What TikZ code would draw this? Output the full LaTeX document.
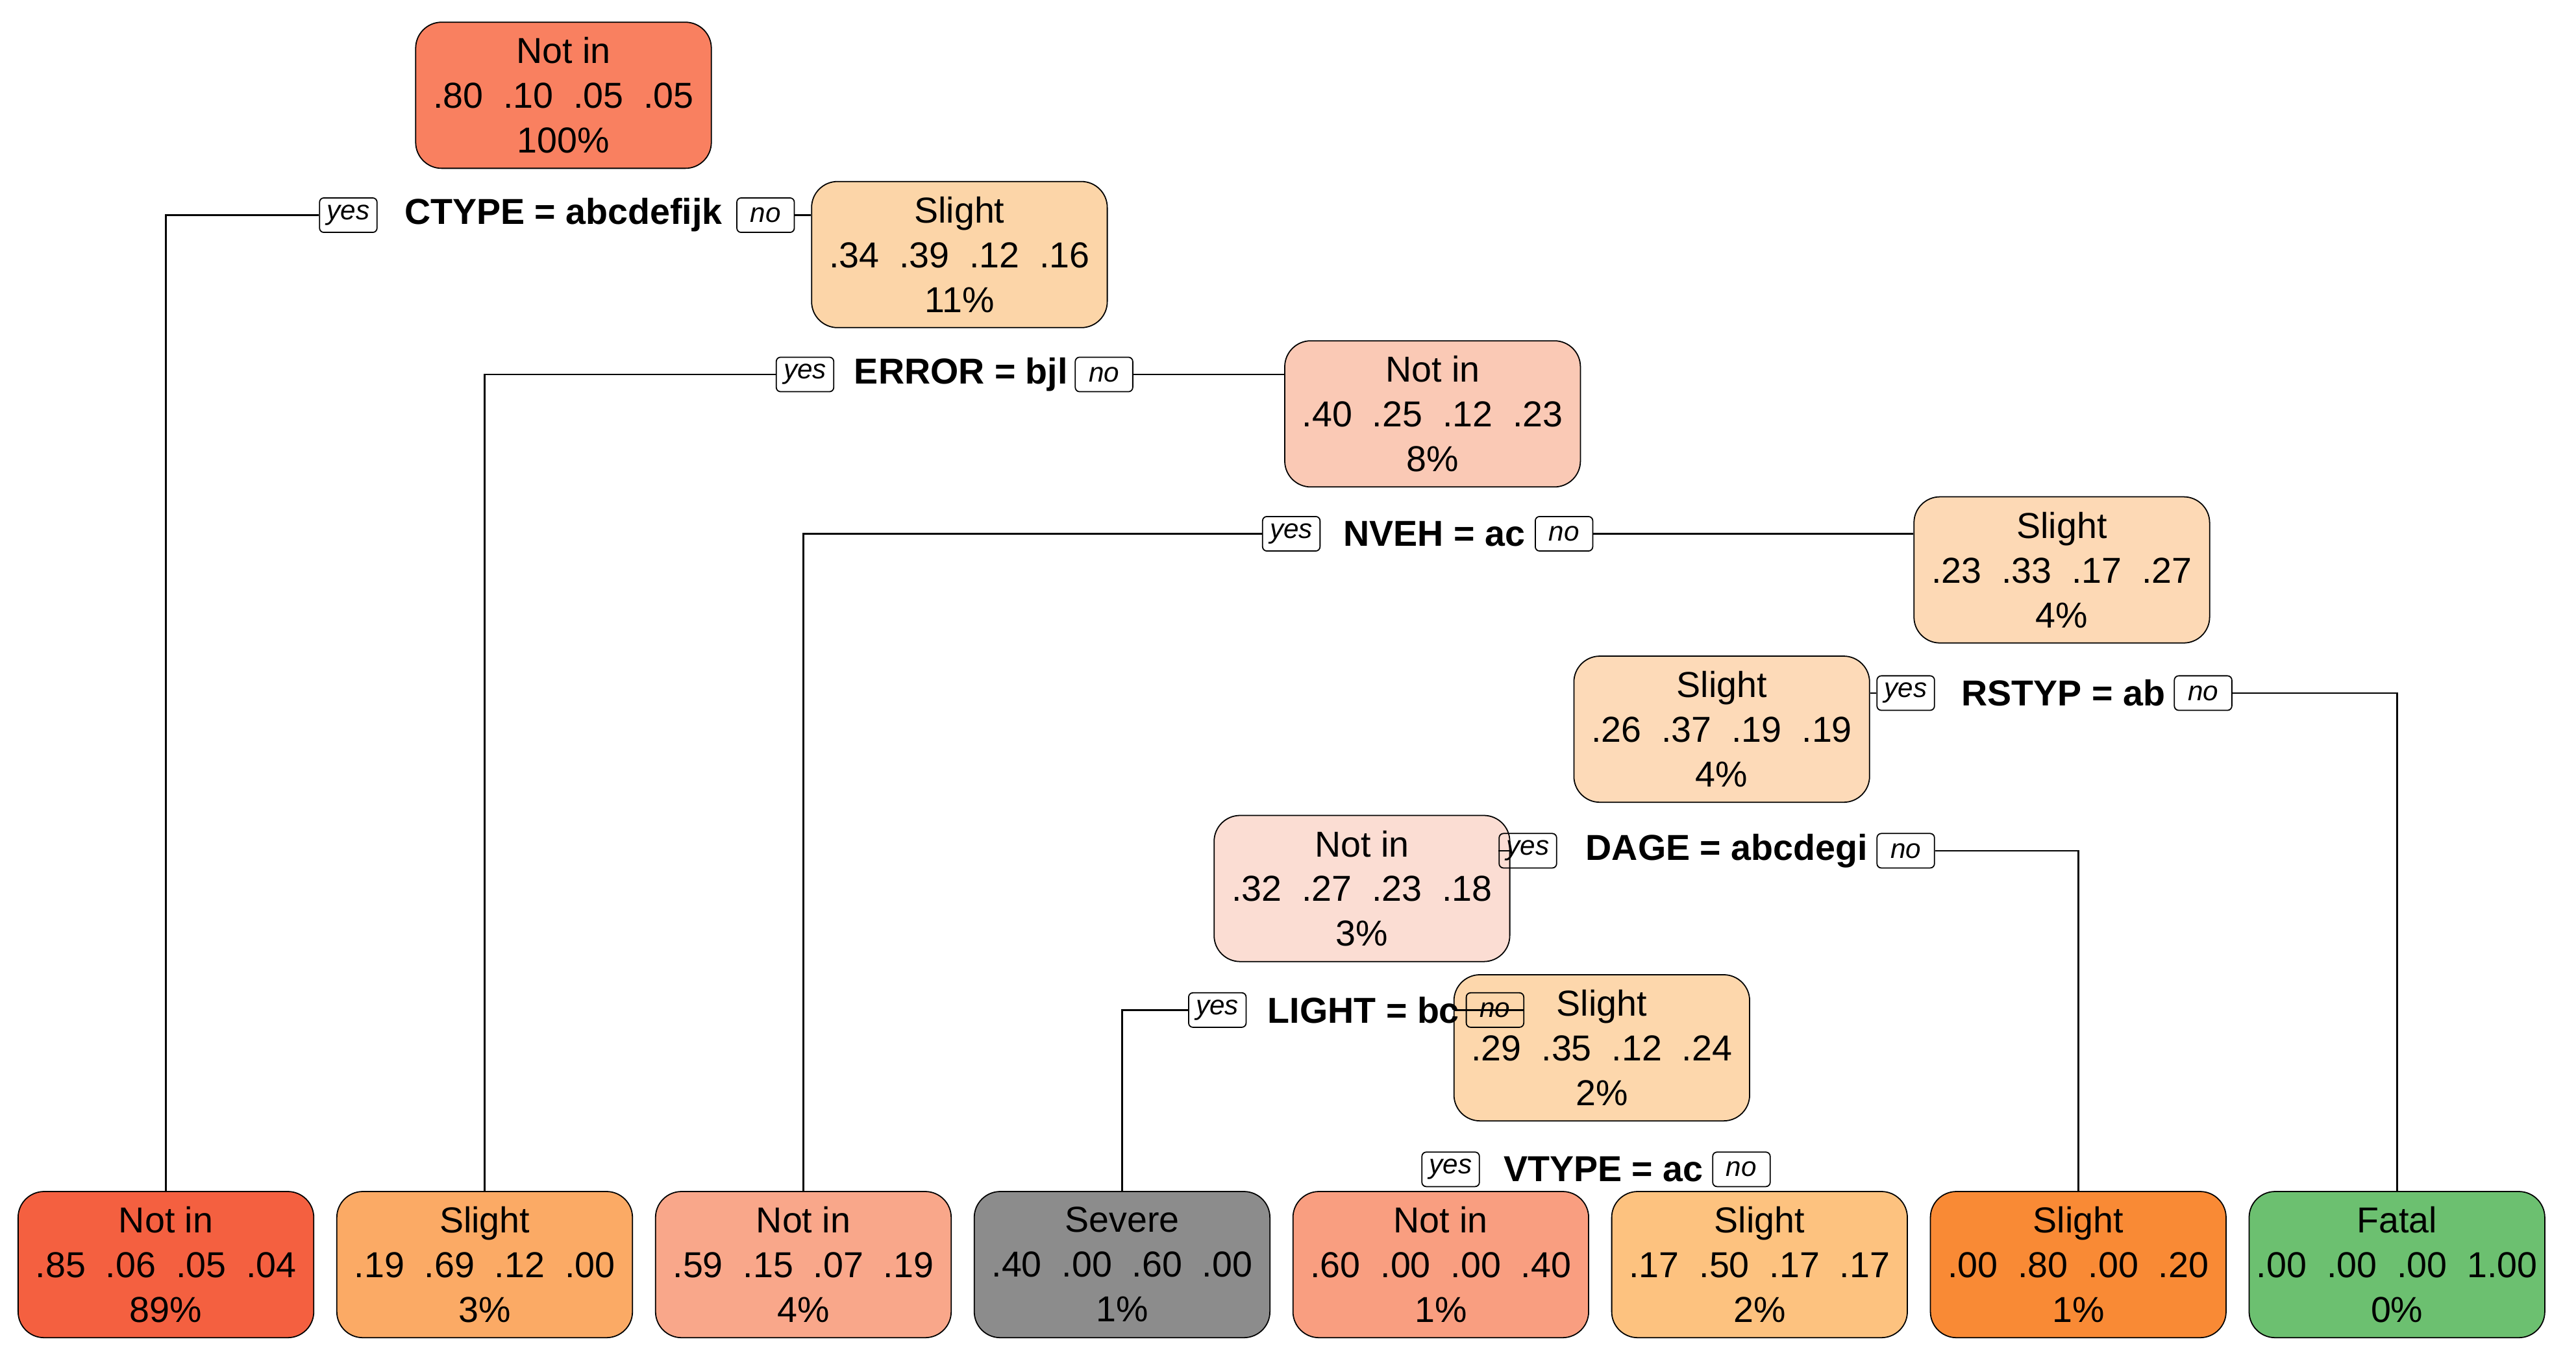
\documentclass[tikz,border=0pt]{standalone}
\usepackage{fontspec}
\setmainfont{Liberation Sans}
\begin{document}
\begin{tikzpicture}[x=0.02cm,y=-0.02cm,
 box/.style={draw=black,rounded corners=9pt,minimum width=3.6cm,minimum height=1.78cm,align=center,font=\fontsize{12.5}{15.5}\selectfont,inner sep=0pt},
 yn/.style={draw=black,rounded corners=1.5pt,inner sep=1.5pt,font=\fontsize{9.5}{11}\selectfont\itshape,minimum height=0.42cm,minimum width=0.7cm},
 cond/.style={font=\fontsize{12.5}{15}\selectfont\bfseries},
 ln/.style={draw=black,line width=0.6pt}]
\useasboundingbox (0,0) rectangle (1568,826);
\definecolor{c1}{HTML}{F98060}\definecolor{c2}{HTML}{FCD5A8}\definecolor{c3}{HTML}{FAC9B5}
\definecolor{c4}{HTML}{FDD9B5}\definecolor{c5}{HTML}{FDDAB8}\definecolor{c6}{HTML}{FBDDD3}
\definecolor{c7}{HTML}{FDD7AC}\definecolor{l1}{HTML}{F46040}\definecolor{l2}{HTML}{FBAA65}
\definecolor{l3}{HTML}{F9A78A}\definecolor{l4}{HTML}{8C8C8C}\definecolor{l5}{HTML}{F99E80}
\definecolor{l6}{HTML}{FDC27F}\definecolor{l7}{HTML}{F98A35}\definecolor{l8}{HTML}{6CC070}
\node[box,fill=c1] (n1) at (343,58) {Not in\\.80\ \ .10\ \ .05\ \ .05\\100\%};
\node[box,fill=c2] (n2) at (584,155) {Slight\\.34\ \ .39\ \ .12\ \ .16\\11\%};
\node[box,fill=c3] (n3) at (872,252) {Not in\\.40\ \ .25\ \ .12\ \ .23\\8\%};
\node[box,fill=c4] (n4) at (1255,347) {Slight\\.23\ \ .33\ \ .17\ \ .27\\4\%};
\node[box,fill=c5] (n5) at (1048,444) {Slight\\.26\ \ .37\ \ .19\ \ .19\\4\%};
\node[box,fill=c6] (n6) at (829,541) {Not in\\.32\ \ .27\ \ .23\ \ .18\\3\%};
\node[box,fill=c7] (n7) at (975,638) {Slight\\.29\ \ .35\ \ .12\ \ .24\\2\%};
\node[box,fill=l1] (L1) at (101,770) {Not in\\.85\ \ .06\ \ .05\ \ .04\\89\%};
\node[box,fill=l2] (L2) at (295,770) {Slight\\.19\ \ .69\ \ .12\ \ .00\\3\%};
\node[box,fill=l3] (L3) at (489,770) {Not in\\.59\ \ .15\ \ .07\ \ .19\\4\%};
\node[box,fill=l4] (L4) at (683,770) {Severe\\.40\ \ .00\ \ .60\ \ .00\\1\%};
\node[box,fill=l5] (L5) at (877,770) {Not in\\.60\ \ .00\ \ .00\ \ .40\\1\%};
\node[box,fill=l6] (L6) at (1071,770) {Slight\\.17\ \ .50\ \ .17\ \ .17\\2\%};
\node[box,fill=l7] (L7) at (1265,770) {Slight\\.00\ \ .80\ \ .00\ \ .20\\1\%};
\node[box,fill=l8] (L8) at (1459,770) {Fatal\\.00\ \ .00\ \ .00\ \ 1.00\\0\%};
% splits
\node[yn] (y1) at (212,131) {yes}; \node[cond] (s1) at (343,131) {CTYPE = abcdefijk}; \node[yn] (o1) at (466,131) {no};
\node[yn] (y2) at (490,228) {yes}; \node[cond] (s2) at (585,228) {ERROR = bjl}; \node[yn] (o2) at (672,228) {no};
\node[yn] (y3) at (786,325) {yes}; \node[cond] (s3) at (873,325) {NVEH = ac}; \node[yn] (o3) at (952,325) {no};
\node[yn] (y4) at (1160,422) {yes}; \node[cond] (s4) at (1256,422) {RSTYP = ab}; \node[yn] (o4) at (1341,422) {no};
\node[yn] (y5) at (930,518) {yes}; \node[cond] (s5) at (1051,518) {DAGE = abcdegi}; \node[yn] (o5) at (1160,518) {no};
\node[yn] (y6) at (741,615) {yes}; \node[cond] (s6) at (830,615) {LIGHT = bc}; \node[yn] (o6) at (910,615) {no};
\node[yn] (y7) at (883,712) {yes}; \node[cond] (s7) at (976,712) {VTYPE = ac}; \node[yn] (o7) at (1060,712) {no};
% connectors
\draw[ln] (y1.west) -| (L1.north); \draw[ln] (o1.east) -- (n2.west |- o1.east);
\draw[ln] (y2.west) -| (L2.north); \draw[ln] (o2.east) -- (n3.west |- o2.east);
\draw[ln] (y3.west) -| (L3.north); \draw[ln] (o3.east) -- (n4.west |- o3.east);
\draw[ln] (y4.west) -- (n5.east |- y4.west); \draw[ln] (o4.east) -| (L8.north);
\draw[ln] (y5.west) -- (n6.east |- y5.west); \draw[ln] (o5.east) -| (L7.north);
\draw[ln] (y6.west) -| (L4.north); \draw[ln] (o6.east) -- (n7.west |- o6.east);
\end{tikzpicture}
\end{document}
